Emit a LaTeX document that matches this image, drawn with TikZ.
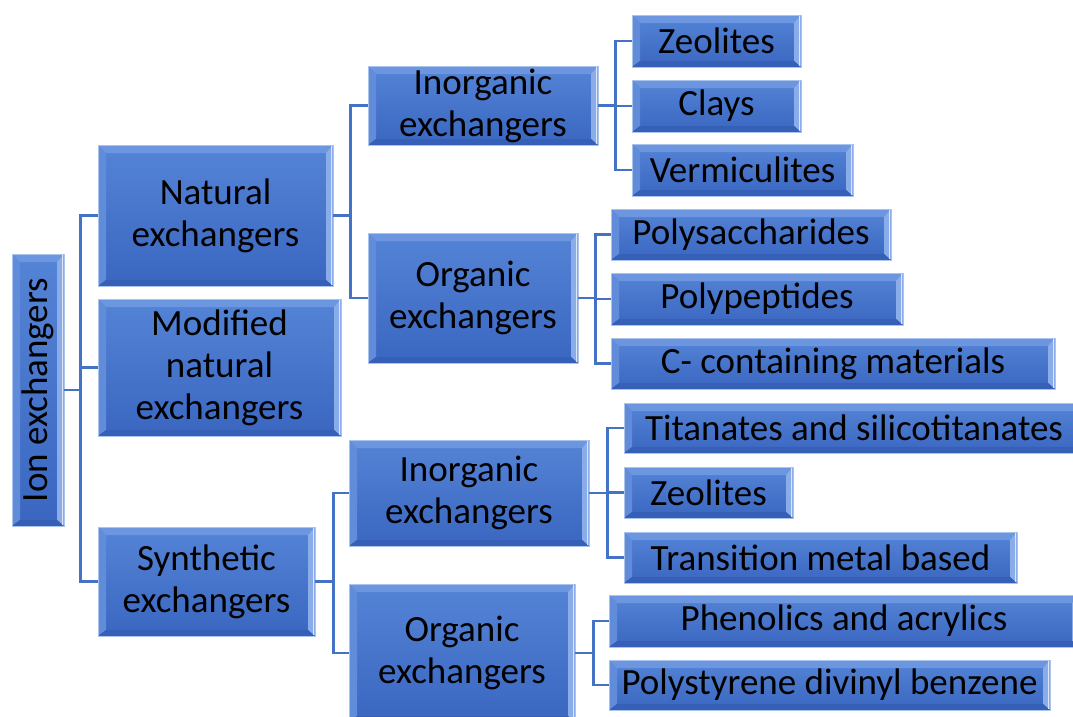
\documentclass[tikz,border=0pt]{standalone}
\usepackage{fontspec}
\setmainfont{Carlito}
\usepackage{xcolor}
\usepackage{tikz}
\usetikzlibrary{calc}

\definecolor{faceTop}{RGB}{84,132,214}
\definecolor{faceBot}{RGB}{58,102,192}
\definecolor{bevTop}{RGB}{108,150,224}
\definecolor{bevLeft}{RGB}{96,140,218}
\definecolor{bevRight}{RGB}{138,172,232}
\definecolor{bevBot}{RGB}{54,96,184}
\definecolor{boxline}{RGB}{170,196,236}
\definecolor{linkblue}{RGB}{68,114,196}

\tikzset{
  box/.style={draw=boxline, line width=0.8pt, inner sep=0pt, align=center,
    font=\fontsize{37}{42}\selectfont, text=black,
    top color=faceTop, bottom color=faceBot,
    path picture={
      \path (path picture bounding box.south west) coordinate (bsw)
            (path picture bounding box.north east) coordinate (bne)
            (path picture bounding box.north west) coordinate (bnw)
            (path picture bounding box.south east) coordinate (bse);
      \fill[bevTop] (bnw) -- (bne) -- ($(bne)+(-7pt,-8pt)$) -- ($(bnw)+(8pt,-8pt)$) -- cycle;
      \fill[bevLeft] (bnw) -- (bsw) -- ($(bsw)+(8pt,6pt)$) -- ($(bnw)+(8pt,-8pt)$) -- cycle;
      \fill[bevRight] (bne) -- (bse) -- ($(bse)+(-7pt,6pt)$) -- ($(bne)+(-7pt,-8pt)$) -- cycle;
      \fill[bevBot] (bsw) -- (bse) -- ($(bse)+(-7pt,6pt)$) -- ($(bsw)+(8pt,6pt)$) -- cycle;
      \draw[white!70!bevRight, line width=1.5pt] ($(bne)+(-1.5pt,-1pt)$) -- ($(bse)+(-1.5pt,1pt)$);
    }},
  link/.style={draw=linkblue, line width=2.4pt}
}

\begin{document}
\begin{tikzpicture}[x=1pt, y=-1pt]
    \useasboundingbox (0,0) rectangle (1073,716);

    \node[box, minimum width=52, minimum height=272] (ion) at (38,390) {\rotatebox{90}{Ion exchangers}};

    \node[box, minimum width=235, minimum height=141] (nat) at (215.5,215.5) {Natural\\exchangers};
    \node[box, minimum width=243, minimum height=137] (mod) at (219.5,367.5) {Modified\\natural\\exchangers};
    \node[box, minimum width=217, minimum height=109] (syn) at (206.5,581.5) {Synthetic\\exchangers};

    \node[box, minimum width=230, minimum height=79] (natino) at (483,105.5) {Inorganic\\exchangers};
    \node[box, minimum width=210, minimum height=130] (natorg) at (473,298) {Organic\\exchangers};
    \node[box, minimum width=240, minimum height=106] (synino) at (469,493) {Inorganic\\exchangers};
    \node[box, minimum width=226, minimum height=138] (synorg) at (462,653) {Organic\\exchangers};

    \node[box, minimum width=169, minimum height=52] (zeo) at (716.5,41) {Zeolites};
    \node[box, minimum width=169, minimum height=52] (clay) at (716.5,106) {Clays};
    \node[box, minimum width=221, minimum height=52] (verm) at (742.5,170) {Vermiculites};

    \node[box, minimum width=280, minimum height=51] (psac) at (751,234.5) {Polysaccharides};
    \node[box, minimum width=292, minimum height=52] (ppep) at (757,299) {Polypeptides};
    \node[box, minimum width=444, minimum height=51] (cmat) at (833,363.5) {C- containing materials};

    \node[box, minimum width=460, minimum height=50] (tita) at (854,428) {Titanates and silicotitanates};
    \node[box, minimum width=169, minimum height=51] (synzeo) at (708.5,492.5) {Zeolites};
    \node[box, minimum width=393, minimum height=51] (trans) at (820.5,557.5) {Transition metal based};

    \node[box, minimum width=470, minimum height=52] (phen) at (844,621) {Phenolics and acrylics};
    \node[box, minimum width=441, minimum height=50] (pdvb) at (829.5,685) {Polystyrene divinyl benzene};

    \draw[link] (ion.east) -- ++(16,0) coordinate (ionbus);
    \draw[link] (nat.west) -| (ionbus) |- (syn.west);
    \draw[link] (ionbus) |- (mod.west);

    \draw[link] (nat.east) -- ++(17,0) coordinate (natbus);
    \draw[link] (natino.west) -| (natbus) |- (natorg.west);

    \draw[link] (natino.east) -- ++(17,0) coordinate (inobus);
    \draw[link] (zeo.west) -| (inobus) |- (verm.west);
    \draw[link] (inobus) |- (clay.west);

    \draw[link] (natorg.east) -- ++(17,0) coordinate (orgbus);
    \draw[link] (psac.west) -| (orgbus) |- (cmat.west);
    \draw[link] (orgbus) |- (ppep.west);

    \draw[link] (syn.east) -- ++(18,0) coordinate (synbus);
    \draw[link] (synino.west) -| (synbus) |- (synorg.west);

    \draw[link] (synino.east) -- ++(18,0) coordinate (sinobus);
    \draw[link] (tita.west) -| (sinobus) |- (trans.west);
    \draw[link] (sinobus) |- (synzeo.west);

    \draw[link] (synorg.east) -- ++(18,0) coordinate (sorgbus);
    \draw[link] (phen.west) -| (sorgbus) |- (pdvb.west);
\end{tikzpicture}
\end{document}
